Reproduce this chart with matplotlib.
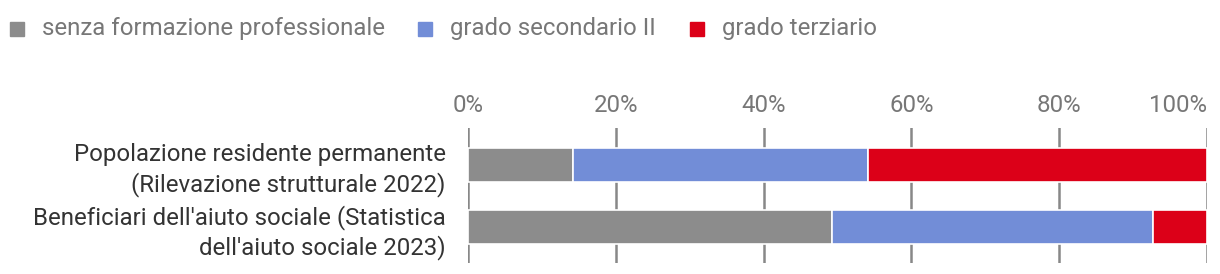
import matplotlib
matplotlib.use("Agg")
import matplotlib.pyplot as plt
import numpy as np

plt.rcParams['font.family'] = ['Roboto', 'DejaVu Sans']

categories = ["Popolazione residente permanente\n(Rilevazione strutturale 2022)",
              "Beneficiari dell'aiuto sociale (Statistica\ndell'aiuto sociale 2023)"]
series = ["senza formazione professionale", "grado secondario II", "grado terziario"]
senza = [14.2, 49.2]
secondario = [39.9, 43.5]
terziario = [45.9, 7.3]
colors = ["#8c8c8c", "#728dd7", "#dc0018"]
ticks = [0, 20, 40, 60, 80, 100]

fig = plt.figure(figsize=(12.2, 2.74), dpi=100)
ax = fig.add_axes([0.3834, 0.039, 0.6062, 0.4928])

y = np.arange(len(categories))
left = np.zeros(len(categories))
for vals, col, name in zip([senza, secondario, terziario], colors, series):
    ax.barh(y, vals, left=left, height=0.546, color=col, edgecolor="white",
            linewidth=1.2, label=name, zorder=3)
    left = left + np.array(vals)

ax.set_xlim(0, 100)
ax.set_ylim(len(categories) - 1 + 0.584, -0.584)
ax.set_xticks(ticks)
ax.set_xticklabels([f"{t}%" for t in ticks])
ax.xaxis.tick_top()
ax.tick_params(axis="x", length=0, pad=8, labelsize=17.3, labelcolor="#777777")
ax.get_xticklabels()[-1].set_horizontalalignment("right")
ax.set_yticks(y)
ax.set_yticklabels(categories)
ax.tick_params(axis="y", length=0, pad=16, labelsize=17.3, labelcolor="#333333")
for lab in ax.get_yticklabels():
    lab.set_horizontalalignment("right")
    lab.set_linespacing(1.3)
ax.grid(axis="x", color="#888888", linewidth=1.8, zorder=0)
ax.set_axisbelow(True)
for s in ax.spines.values():
    s.set_visible(False)

# legenda in alto a sinistra
leg_x = [10, 418, 690]
for lx, col, name in zip(leg_x, colors, series):
    fig.patches.append(plt.Rectangle((lx / 1220, 1 - 36 / 274), 14 / 1220, 14 / 274,
                                     transform=fig.transFigure, color=col))
    fig.text((lx + 32) / 1220, 1 - 29 / 274, name, fontsize=17.3, color="#777777",
             va="center", ha="left")

fig.savefig("out.png", dpi=100)
